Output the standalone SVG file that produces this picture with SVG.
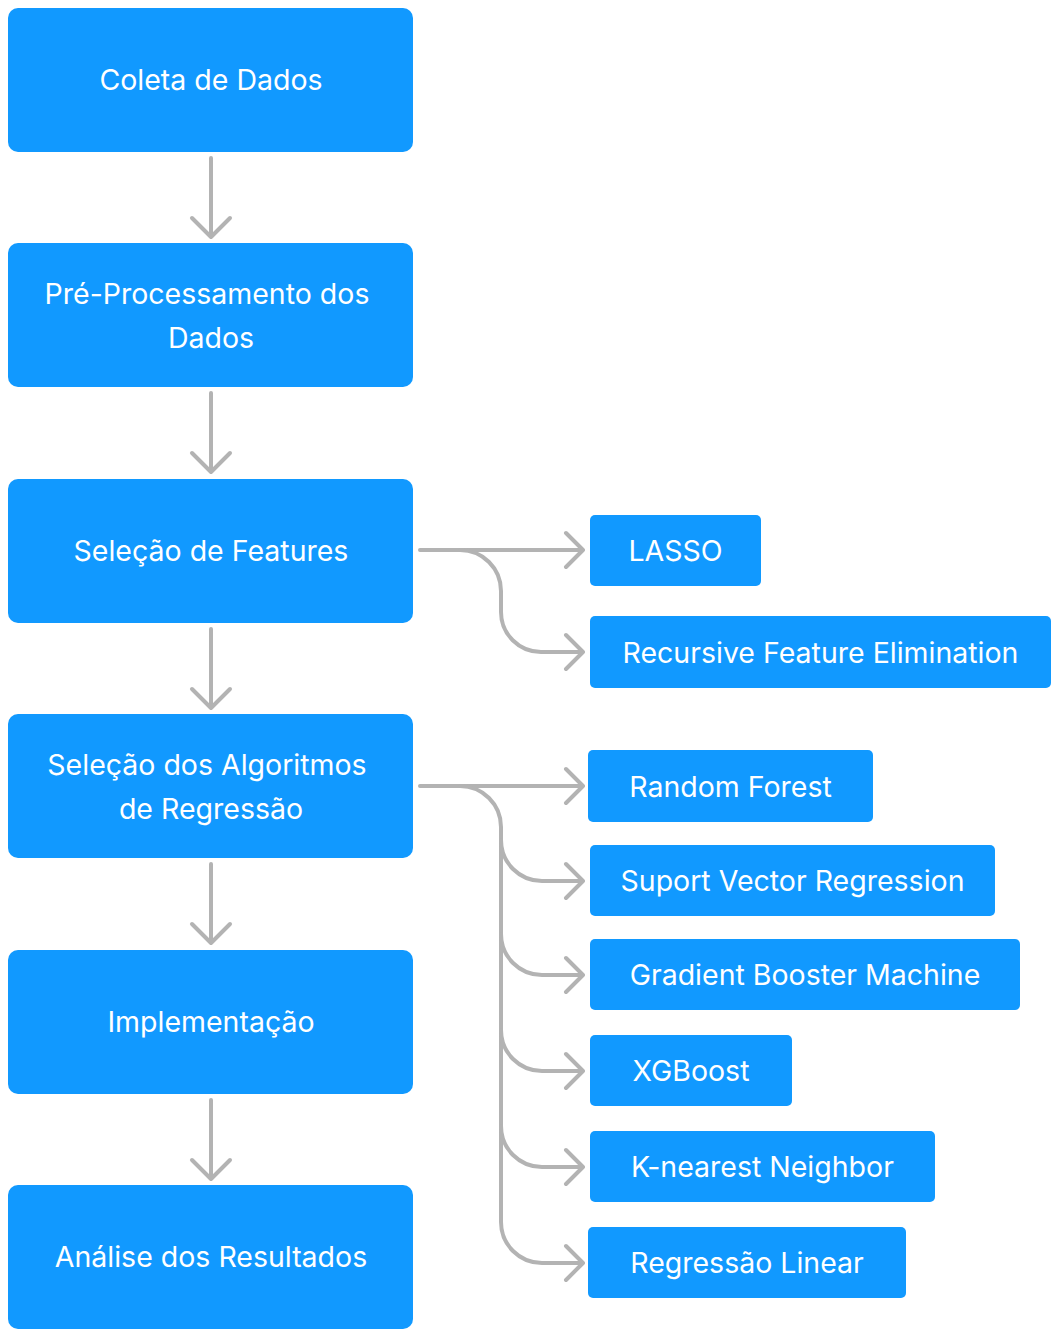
<svg xmlns="http://www.w3.org/2000/svg" width="1058" height="1336" viewBox="0 0 1058 1336">
<style>
.box{fill:#1199ff;}
.t{font-family:Inter,"Noto Sans","Liberation Sans",sans-serif;font-size:28.5px;fill:#ffffff;text-anchor:middle;}
.c{fill:none;stroke:#b3b3b3;stroke-width:4;stroke-linecap:round;stroke-linejoin:round;}
</style>
<rect width="1058" height="1336" fill="#ffffff"/>
<g id="connectors">
<path class="c" d="M211 158 V236 M192 218 L211 237 L230 218"/>
<path class="c" d="M211 393 V471 M192 453 L211 472 L230 453"/>
<path class="c" d="M211 629 V707 M192 689 L211 708 L230 689"/>
<path class="c" d="M211 864 V942 M192 924 L211 943 L230 924"/>
<path class="c" d="M211 1100 V1178 M192 1160 L211 1179 L230 1160"/>
<path class="c" d="M420 550 H582 M566 533 L583 550 L566 567"/>
<path class="c" d="M460 550 A41 41 0 0 1 501 591 V612 A40 40 0 0 0 541 652 H582 M566 635 L583 652 L566 669"/>
<path class="c" d="M420 786 H582 M566 769 L583 786 L566 803"/>
<path class="c" d="M460 786 A41 41 0 0 1 501 827 V1222 A41 41 0 0 0 542 1263 H582 M566 1246 L583 1263 L566 1280"/>
<path class="c" d="M501 840 A41 41 0 0 0 542 881 H582 M566 864 L583 881 L566 898"/>
<path class="c" d="M501 934 A41 41 0 0 0 542 975 H582 M566 958 L583 975 L566 992"/>
<path class="c" d="M501 1030 A41 41 0 0 0 542 1071 H582 M566 1054 L583 1071 L566 1088"/>
<path class="c" d="M501 1126 A41 41 0 0 0 542 1167 H582 M566 1150 L583 1167 L566 1184"/>
</g>
<g id="n1"><rect class="box" x="8" y="8" width="405" height="144" rx="10"/><text class="t" x="211" y="90">Coleta de Dados</text></g>
<g id="n2"><rect class="box" x="8" y="243" width="405" height="144" rx="10"/><text class="t" x="207" y="304">Pré-Processamento dos</text><text class="t" x="211" y="348">Dados</text></g>
<g id="n3"><rect class="box" x="8" y="479" width="405" height="144" rx="10"/><text class="t" x="211" y="561">Seleção de Features</text></g>
<g id="n4"><rect class="box" x="8" y="714" width="405" height="144" rx="10"/><text class="t" x="207" y="775">Seleção dos Algoritmos</text><text class="t" x="211" y="819">de Regressão</text></g>
<g id="n5"><rect class="box" x="8" y="950" width="405" height="144" rx="10"/><text class="t" x="211" y="1032">Implementação</text></g>
<g id="n6"><rect class="box" x="8" y="1185" width="405" height="144" rx="10"/><text class="t" x="211" y="1267">Análise dos Resultados</text></g>
<g id="lasso"><rect class="box" x="590" y="515" width="171" height="71" rx="5"/><text class="t" x="675.5" y="561">LASSO</text></g>
<g id="rfe"><rect class="box" x="590" y="616" width="461" height="72" rx="5"/><text class="t" x="820.5" y="663">Recursive Feature Elimination</text></g>
<g id="rf"><rect class="box" x="588" y="750" width="285" height="72" rx="5"/><text class="t" x="730.5" y="797">Random Forest</text></g>
<g id="svr"><rect class="box" x="590" y="845" width="405" height="71" rx="5"/><text class="t" x="792.5" y="891">Suport Vector Regression</text></g>
<g id="gbm"><rect class="box" x="590" y="939" width="430" height="71" rx="5"/><text class="t" x="805" y="985">Gradient Booster Machine</text></g>
<g id="xgb"><rect class="box" x="590" y="1035" width="202" height="71" rx="5"/><text class="t" x="691" y="1081">XGBoost</text></g>
<g id="knn"><rect class="box" x="590" y="1131" width="345" height="71" rx="5"/><text class="t" x="762.5" y="1177">K-nearest Neighbor</text></g>
<g id="rl"><rect class="box" x="588" y="1227" width="318" height="71" rx="5"/><text class="t" x="747" y="1273">Regressão Linear</text></g>
</svg>
